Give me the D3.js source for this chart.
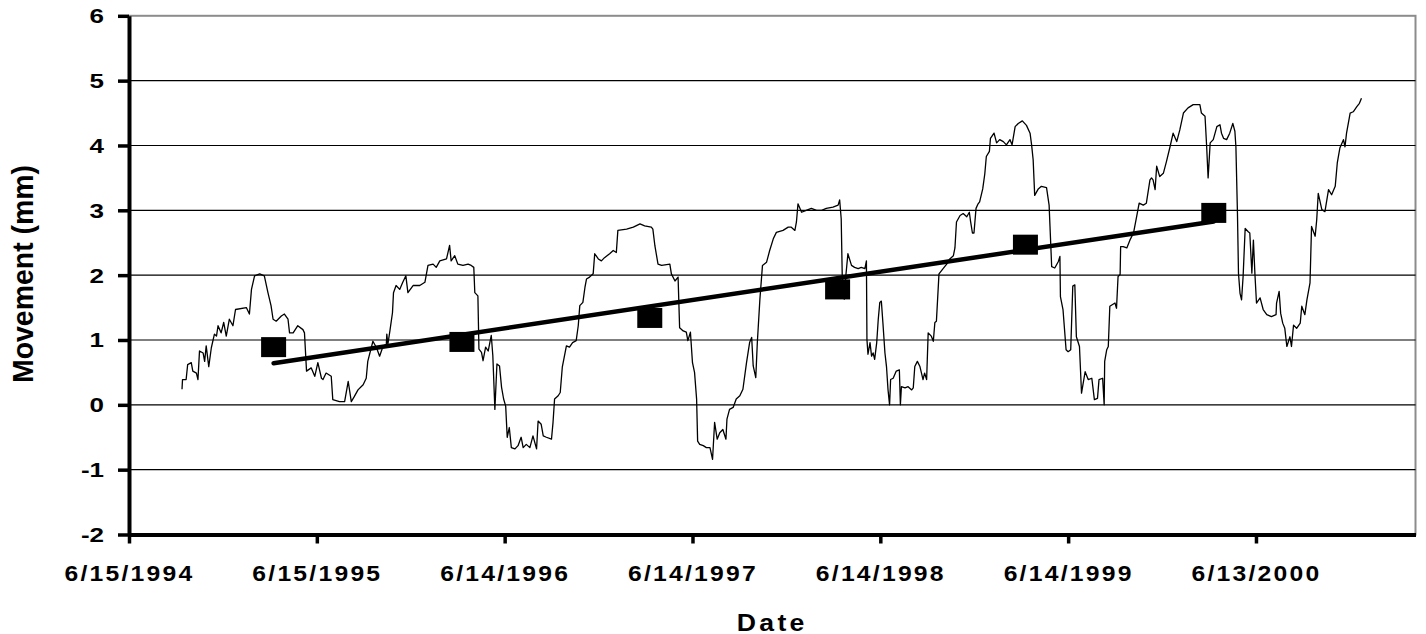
<!DOCTYPE html>
<html><head><meta charset="utf-8">
<script src="https://cdn.jsdelivr.net/npm/d3@7"></script>
<style>
body{margin:0;background:#fff}
svg{display:block}
text{font-family:"Liberation Sans",Arial,sans-serif;font-weight:bold;fill:#000}
</style>
</head><body>
<svg id="chart" width="1426" height="634"></svg>
<script>
// ---- data (dates are Excel serial day numbers) ----
const days = [
34603,34604,34611,34614,34621,34624,34631,34634,34637,34644,34647,34650,34655,34660,34666,34670,34673,34679,34684,34689,
34695,34702,34707,34728,34734,34738,34744,34754,34763,34770,34776,34780,34786,34796,34802,34809,34812,34819,34828,34838,
34841,34845,34854,34861,34867,34874,34877,34883,34893,34896,34909,34919,34926,34932,34938,34945,34955,34961,34964,34974,
34981,34987,34994,35000,35001,35003,35007,35012,35014,35019,35026,35032,35038,35042,35052,35065,35075,35081,35091,35097,
35104,35117,35123,35126,35133,35139,35149,35159,35165,35170,
35172,35178,35180,35185,35188,35193,35198,35204,35207,35211,35215,35220,35224,35228,35232,35235,35239,35243,35250,35256,
35262,35266,35272,35279,35285,35292,35295,35301,35305,35311,35321,35324,35327,35334,35338,35342,35350,35356,35362,35369,
35373,35376,35382,35386,35389,35395,35402,35405,35412,35418,35424,35434,35441,35447,35450,35467,35480,35493,35502,35515,
35518,35522,35528,35535,35551,35554,35561,35567,35570,35577,35583,35586,35591,35595,35599,35603,35605,35609,35616,35622,
35629,35634,35638,35643,35648,35654,35660,35662,35667,35674,35680,35687,35693,35700,35706,35710,35713,35718,35721,35726,
35731,35739,35745,35752,35758,35771,35781,
35787,35794,35797,35800,35807,35816,35826,35836,35846,35855,35868,35878,35881,35884,35886,35890,35893,35897,35904,35910,
35917,35923,35930,35933,35934,35936,35940,35943,35946,35949,35953,35956,35959,35962,35965,35969,35972,35975,35978,35980,
35985,35991,35997,35999,36001,36008,36014,36021,36024,36027,36032,36037,36043,36046,36050,36053,36059,36063,36066,36069,
36074,36082,36089,36095,36102,
36105,36108,36115,36121,36128,36133,36135,36139,36142,36146,36150,36153,36159,36163,36166,36172,36174,36181,36186,36192,
36199,36205,36212,36216,36222,36228,36236,36244,36251,36254,36257,36260,36267,36273,36283,36288,
36293,36299,36306,36309,36310,36315,36321,36325,36330,36334,36338,36341,36347,36351,36358,36364,36371,36376,36382,36385,
36392,36395,36396,36400,36403,36406,36416,36419,36422,36426,36427,36432,36439,36445,36452,36458,36463,36471,36477,36484,
36487,36490,36494,36497,36503,36510,36516,36523,36529,36536,36542,36549,36558,36568,36581,36584,36591,36594,36597,36601,
36607,36614,36620,36623,36627,36633,36639,36645,36649,36651,36654,36656,36659,36662,36665,36669,36675,36678,36682,36685,
36688,36691,36698,36704,36711,36720,36729,36730,36735,36738,36742,36746,36750,36756,36759,36763,36769,36776,36779,36785,
36789,36795,36798,36805,36808,36811,36818,36824,36831,36837,36844,36848,36853,36860,36863,36866,36873,36879,36886,36891,
36895];

const movement = [
0.24,0.39,0.39,0.62,0.65,0.52,0.49,0.39,0.83,0.80,0.67,0.91,0.59,0.88,1.09,1.06,1.22,1.11,1.27,1.06,
1.32,1.22,1.47,1.50,1.40,1.78,1.99,2.02,1.99,1.73,1.53,1.32,1.29,1.37,1.40,1.32,1.11,1.11,1.22,1.16,
1.11,0.52,0.57,0.44,0.65,0.41,0.39,0.49,0.44,0.08,0.05,0.05,0.36,0.05,0.13,0.23,0.31,0.41,0.67,0.98,
0.88,0.75,0.91,0.93,1.09,0.93,1.14,1.42,1.73,1.84,1.78,1.89,1.99,1.73,1.84,1.84,1.89,2.15,2.17,2.12,
2.22,2.25,2.46,2.22,2.30,2.17,2.15,2.17,2.15,2.12,
1.73,1.68,0.86,0.81,0.68,0.89,0.83,1.07,0.76,-0.07,0.63,0.60,0.27,0.09,-0.02,-0.50,-0.35,-0.66,-0.68,-0.63,
-0.50,-0.66,-0.61,-0.66,-0.48,-0.68,-0.25,-0.30,-0.48,-0.50,-0.53,-0.27,0.09,0.14,0.19,0.58,0.91,0.89,0.96,0.99,
1.22,1.53,1.58,1.81,1.94,1.97,2.02,2.33,2.25,2.22,2.27,2.33,2.38,2.35,2.69,2.71,2.74,2.79,2.76,2.74,
2.71,2.45,2.17,2.15,2.17,2.02,1.91,1.97,1.19,1.14,1.12,0.99,1.12,0.65,0.50,0.09,-0.56,-0.61,-0.63,-0.66,
-0.66,-0.84,-0.27,-0.53,-0.43,-0.38,-0.53,-0.22,-0.07,-0.04,0.09,0.14,0.24,0.65,0.96,1.04,0.60,0.42,0.96,1.63,
2.15,2.20,2.38,2.56,2.66,2.69,2.74,
2.74,2.69,2.82,3.10,2.97,3.00,3.03,3.00,3.00,3.03,3.05,3.08,3.16,2.87,1.99,1.63,1.99,2.33,2.15,2.12,
2.10,2.12,2.10,2.22,1.01,0.78,0.96,0.75,0.80,0.70,0.96,1.32,1.58,1.60,1.27,0.80,0.59,0.23,0.00,0.39,
0.41,0.52,0.54,0.00,0.28,0.26,0.28,0.23,0.26,0.59,0.67,0.59,0.39,0.49,0.39,1.11,1.06,0.98,1.27,1.29,
2.02,2.10,2.17,2.25,2.30,
2.42,2.82,2.92,2.95,2.90,2.97,2.85,2.65,2.65,3.03,3.10,3.13,3.33,3.56,3.83,3.91,4.11,4.19,4.04,4.09,
4.06,4.01,4.09,4.01,4.29,4.34,4.38,4.31,4.19,4.01,3.78,3.23,3.33,3.37,3.35,3.08,
2.13,2.11,2.21,2.29,1.67,1.47,0.85,0.82,0.85,1.83,1.85,1.05,0.90,0.18,0.51,0.39,0.41,0.08,0.10,0.39,
0.41,0.00,0.67,0.85,0.90,1.52,1.57,1.49,1.98,2.01,2.44,2.44,2.42,2.54,2.65,2.90,3.11,3.08,3.11,3.47,
3.50,3.47,3.32,3.68,3.52,3.57,3.75,3.98,4.19,4.06,4.24,4.50,4.58,4.63,4.63,4.50,4.45,4.01,3.50,4.04,
4.09,4.29,4.32,4.19,4.11,4.09,4.19,4.34,4.22,3.98,2.96,2.03,1.72,1.62,1.98,2.72,2.67,2.65,2.03,2.54,
2.01,1.57,1.65,1.47,1.39,1.36,1.39,1.57,1.75,1.41,1.26,1.18,0.90,1.05,0.90,1.23,1.18,1.26,1.52,1.39,
1.62,1.88,2.75,2.60,2.85,3.26,3.01,2.98,3.32,3.24,3.37,3.73,3.96,4.09,3.98,4.19,4.50,4.52,4.60,4.65,
4.73];

// annual markers
const annualDays = [34781, 35147, 35512, 35877, 36242, 36608];
const annualMovement = [0.89, 0.97, 1.34, 1.78, 2.47, 2.96];

// axes
const yTicks = [-2, -1, 0, 1, 2, 3, 4, 5, 6];
const xTickDays = [34500, 34865, 35230, 35595, 35960, 36325, 36690];
const xTickLabels = ["6/15/1994", "6/15/1995", "6/14/1996", "6/14/1997", "6/14/1998", "6/14/1999", "6/13/2000"];
const xDomainDays = [34500, 37000];
const yDomain = [-2, 6];

// ---- drawing ----
const toDate = s => new Date(Date.UTC(1899, 11, 30) + s * 864e5);
const L = 129, R = 1415.5, T = 15.8, B = 534.5;

const svg = d3.select("#chart");
const x = d3.scaleUtc().domain(xDomainDays.map(toDate)).range([L, R]);
const y = d3.scaleLinear().domain(yDomain).range([B, T]);

function stretch(sel, k) {
  sel.each(function () {
    const w = this.getComputedTextLength();
    this.setAttribute("textLength", w * k);
    this.setAttribute("lengthAdjust", "spacingAndGlyphs");
  });
}

// plot border (gray)
svg.append("rect").attr("x", L).attr("y", T).attr("width", R - L).attr("height", B - T)
  .attr("fill", "none").attr("stroke", "#8c8c8c").attr("stroke-width", 2);

// gridlines
svg.append("g").selectAll("line").data(yTicks.filter(v => v > yDomain[0] && v < yDomain[1]))
  .join("line")
  .attr("x1", L).attr("x2", R)
  .attr("y1", d => y(d)).attr("y2", d => y(d))
  .attr("stroke", "#000").attr("stroke-width", 1.2);

// series line
const line = d3.line().x((d, i) => x(toDate(days[i]))).y(d => y(d));
svg.append("path").datum(movement)
  .attr("d", line).attr("fill", "none").attr("stroke", "#000")
  .attr("stroke-width", 1.3).attr("stroke-linejoin", "round");

// annual markers
const mw = 25, mh = 20;
svg.append("g").selectAll("rect").data(annualMovement).join("rect")
  .attr("x", (d, i) => x(toDate(annualDays[i])) - mw / 2)
  .attr("y", d => y(d) - mh / 2)
  .attr("width", mw).attr("height", mh).attr("fill", "#000");

// linear trendline through annual markers
const n = annualDays.length;
const mx = d3.mean(annualDays), my = d3.mean(annualMovement);
let sxy = 0, sxx = 0;
for (let i = 0; i < n; i++) {
  sxy += (annualDays[i] - mx) * (annualMovement[i] - my);
  sxx += (annualDays[i] - mx) ** 2;
}
const slope = sxy / sxx, icpt = my - slope * mx;
const tEnds = [annualDays[0], annualDays[n - 1]];
svg.append("line")
  .attr("x1", x(toDate(tEnds[0]))).attr("y1", y(icpt + slope * tEnds[0]))
  .attr("x2", x(toDate(tEnds[1]))).attr("y2", y(icpt + slope * tEnds[1]))
  .attr("stroke", "#000").attr("stroke-width", 4.5).attr("stroke-linecap", "round");

// y axis
const gy = svg.append("g").attr("transform", `translate(${L},0)`)
  .call(d3.axisLeft(y).tickValues(yTicks).tickSizeInner(11).tickSizeOuter(0)
    .tickPadding(14).tickFormat(d => String(d)));
gy.select(".domain").attr("stroke", "#000").attr("stroke-width", 4);
gy.selectAll(".tick line").attr("stroke", "#000").attr("stroke-width", 3.5);
gy.selectAll(".tick text").attr("font-size", 20).attr("dy", "0.35em")
  .attr("font-family", "Liberation Sans, Arial, sans-serif").attr("font-weight", "bold");
stretch(gy.selectAll(".tick text"), 1.3);

// x axis
const gx = svg.append("g").attr("transform", `translate(0,${B})`)
  .call(d3.axisBottom(x).tickValues(xTickDays.map(toDate)).tickSizeInner(9).tickSizeOuter(0)
    .tickPadding(21.5).tickFormat((d, i) => xTickLabels[i]));
gx.select(".domain").attr("stroke", "#000").attr("stroke-width", 4);
gx.selectAll(".tick line").attr("stroke", "#000").attr("stroke-width", 3.5);
gx.selectAll(".tick text").attr("font-size", 22).attr("letter-spacing", 2)
  .attr("font-family", "Liberation Sans, Arial, sans-serif").attr("font-weight", "bold");
gx.selectAll(".tick text").each(function () {
  this.setAttribute("textLength", 130);
  this.setAttribute("lengthAdjust", "spacingAndGlyphs");
});

// axis titles
svg.append("text").attr("x", (L + R) / 2).attr("y", 630.5)
  .attr("text-anchor", "middle").attr("font-size", 24).attr("letter-spacing", 3)
  .attr("textLength", 71).attr("lengthAdjust", "spacingAndGlyphs")
  .text("Date");

svg.append("text")
  .attr("transform", "translate(33,274) scale(1.33,1) rotate(-90)")
  .attr("text-anchor", "middle").attr("font-size", 22.5)
  .attr("textLength", 218).attr("lengthAdjust", "spacingAndGlyphs")
  .text("Movement (mm)");
</script>
</body></html>
